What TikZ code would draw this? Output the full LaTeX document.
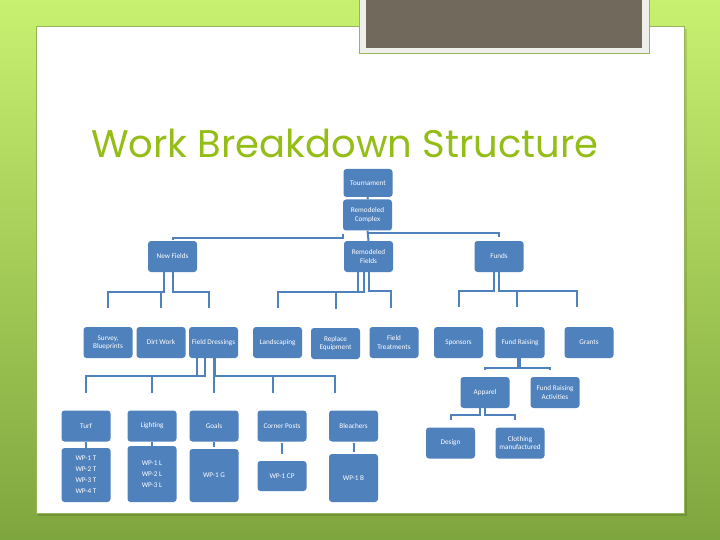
\documentclass[tikz,border=0pt]{standalone}
\usepackage{fontspec}
\usepackage{tikz}
\usetikzlibrary{positioning, calc}
\newfontfamily\boxfont{Carlito}
\newfontfamily\titlefont{Poppins}
\definecolor{boxblue}{RGB}{79,129,189}
\definecolor{titlegreen}{RGB}{148,189,22}
\definecolor{bglight}{RGB}{200,240,112}
\definecolor{bgdark}{RGB}{126,166,62}
\definecolor{panelline}{RGB}{150,180,90}
\definecolor{framegray}{RGB}{238,238,234}
\definecolor{slategray}{RGB}{113,106,92}
\tikzset{
  wbs/.style={rectangle, fill=boxblue, rounded corners=3pt,
    minimum width=49pt, minimum height=31pt, inner sep=1pt,
    align=center, text=white, font=\boxfont\fontsize{7.2}{8.4}\selectfont},
  wpbox/.style={wbs, font=\boxfont\fontsize{7.2}{11}\selectfont},
  link/.style={draw=boxblue, line width=2pt}
}

\begin{document}
\begin{tikzpicture}[x=1pt, y=-1pt]
  \useasboundingbox (0,0) rectangle (720,540);

  % Slide background
  \shade[top color=bglight, bottom color=bgdark] (0,0) rectangle (720,540);
  \fill[black, opacity=0.12] (38,29) rectangle (687,516);
  \fill[white] (36,26) rectangle (684,513);
  \draw[panelline, line width=0.8pt] (36,26) rectangle (684,513);

  % Gray header box
  \fill[framegray] (359,-2) rectangle (649,53);
  \draw[panelline, line width=0.8pt] (359,-2) rectangle (649,53);
  \fill[slategray] (366,-2) rectangle (642,48);

  % Title
  \node[anchor=base west, inner sep=0pt, text=titlegreen,
    font=\titlefont\fontsize{38.5}{38.5}\selectfont] (title) at (91,158) {Work Breakdown Structure};

  % Top levels
  \node[wbs, minimum height=28pt] (tour) at (368,183) {Tournament};
  \node[wbs] (rc) at (367.5,215) {Remodeled\\Complex};
  \node[wbs] (nf) at (172.5,256.5) {New Fields};
  \node[wbs] (rf) at (368.5,256.5) {Remodeled\\Fields};
  \node[wbs] (fu) at (499,256.5) {Funds};

  % Third level
  \node[wbs] (sur) at (108,342.5) {Survey,\\Blueprints};
  \node[wbs] (dirt) at (161,342.5) {Dirt Work};
  \node[wbs] (fd) at (213.5,342.5) {Field Dressings};
  \node[wbs] (land) at (277.5,342.5) {Landscaping};
  \node[wbs] (repl) at (335.5,343.5) {Replace\\Equipment};
  \node[wbs] (ftr) at (394,342.5) {Field\\Treatments};
  \node[wbs] (spon) at (458.5,342.5) {Sponsors};
  \node[wbs] (fr) at (520,342.5) {Fund Raising};
  \node[wbs] (gra) at (589,342.5) {Grants};

  % Field dressings branch
  \node[wbs] (turf) at (86,426) {Turf};
  \node[wbs] (light) at (152,426) {Lighting};
  \node[wbs] (goals) at (214,426) {Goals};
  \node[wbs] (cp) at (282,426) {Corner Posts};
  \node[wbs] (blea) at (353.5,426) {Bleachers};
  \node[wpbox, minimum height=54pt] (wpt) at (86,475) {WP-1 T\\WP-2 T\\WP-3 T\\WP-4 T};
  \node[wpbox, minimum height=56pt] (wpl) at (152,474) {WP-1 L\\WP-2 L\\WP-3 L};
  \node[wpbox, minimum height=53pt] (wpg) at (214,475.5) {WP-1 G};
  \node[wpbox, minimum height=30pt] (wpcp) at (282,476) {WP-1 CP};
  \node[wpbox, minimum height=48pt] (wpb) at (353.5,478) {WP-1 B};

  % Fund raising branch
  \node[wbs] (app) at (485,392.5) {Apparel};
  \node[wbs] (fra) at (555,392.5) {Fund Raising\\Activities};
  \node[wbs] (des) at (450.5,443) {Design};
  \node[wbs] (clo) at (520,443) {Clothing\\manufactured};

  % Connectors, top
  \draw[link] (tour.south) -- (rc.north);
  \draw[link] ([yshift=-3pt]rc.south west) -- ++(0,4) -| ([yshift=1pt]nf.north);
  \draw[link] (rc.south) -- (rf.north);
  \draw[link] ([yshift=-2pt]rc.south) -| ([yshift=4pt]fu.north);

  % Connectors, second level
  \draw[link] ([xshift=-9pt]nf.south) -- ++(0,20) -| ([yshift=19pt]sur.north);
  \draw[link] ([xshift=-9pt]nf.south) -- ++(0,20) -| ([yshift=19pt]dirt.north);
  \draw[link] (nf.south) -- ++(0,20) -| ([xshift=-5pt, yshift=19pt]fd.north);
  \draw[link] ([xshift=-11pt]rf.south) -- ++(0,20) -| ([yshift=19pt]land.north);
  \draw[link] ([xshift=-5pt]rf.south) -- ++(0,20) -| ([yshift=19pt]repl.north);
  \draw[link] (rf.south) -- ++(0,19) -| ([xshift=-3pt, yshift=19pt]ftr.north);
  \draw[link] ([xshift=-5pt]fu.south) -- ++(0,19) -| ([yshift=20pt]spon.north);
  \draw[link] (fu.south) -- ++(0,19) -| ([xshift=-3pt, yshift=20pt]fr.north);
  \draw[link] (fu.south) -- ++(0,19) -| ([xshift=-12pt, yshift=20pt]gra.north);

  % Connectors, field dressings
  \draw[link] ([xshift=-17pt]fd.south) -- ++(0,18) -| ([yshift=17pt]turf.north);
  \draw[link] ([xshift=-9pt]fd.south) -- ++(0,18) -| ([yshift=17pt]light.north);
  \draw[link] (fd.south) -- ++(0,18) -| ([yshift=17pt]goals.north);
  \draw[link] ([xshift=1pt]fd.south) -- ++(0,18) -| ([xshift=-9pt, yshift=17pt]cp.north);
  \draw[link] ([xshift=1pt]fd.south) -- ++(0,18) -| ([xshift=-19pt, yshift=17pt]blea.north);
  \draw[link] (turf.south) -- (wpt.north);
  \draw[link] (light.south) -- (wpl.north);
  \draw[link] (goals.south) -- ([yshift=2pt]wpg.north);
  \draw[link] ([yshift=-1pt]cp.south) -- ([yshift=7pt]wpcp.north);
  \draw[link] ([yshift=-1pt]blea.south) -- ([yshift=2pt]wpb.north);

  % Connectors, fund raising
  \draw[link] ([xshift=-2pt]fr.south) -- ++(0,10) -| ([yshift=7pt]app.north);
  \draw[link] (fr.south) -- ++(0,10) -| ([xshift=-5pt, yshift=7pt]fra.north);
  \draw[link] ([xshift=-5pt]app.south) -- ++(0,7) -| ([yshift=7pt]des.north);
  \draw[link] (app.south) -- ++(0,7) -| ([xshift=-5pt, yshift=7pt]clo.north);
\end{tikzpicture}
\end{document}
